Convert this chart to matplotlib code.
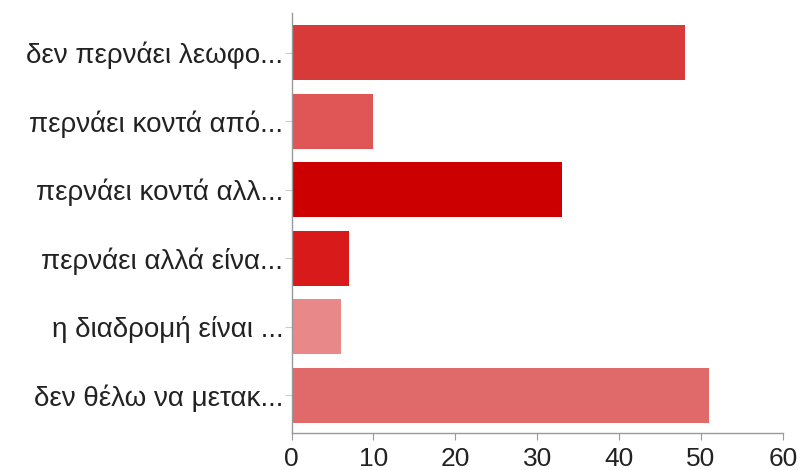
import matplotlib
matplotlib.use("Agg")
import matplotlib.pyplot as plt

categories = [
    "δεν περνάει λεωφο...",
    "περνάει κοντά από...",
    "περνάει κοντά αλλ...",
    "περνάει αλλά είνα...",
    "η διαδρομή είναι ...",
    "δεν θέλω να μετακ...",
]
values = [48, 10, 33, 7, 6, 51]
colors = ["#d83a3a", "#e05656", "#cc0000", "#d81a1a", "#e88888", "#e06a6a"]
xticks = [0, 10, 20, 30, 40, 50, 60]

plt.rcParams['font.family'] = ['Liberation Sans', 'DejaVu Sans']

fig = plt.figure(figsize=(8.01, 4.70), dpi=100)
ax = fig.add_axes([0.364, 0.079, 0.6135, 0.893])

pos = list(range(len(categories)))
ax.barh(pos, values, height=0.8, color=colors)
ax.set_ylim(5.547, -0.576)
ax.set_xlim(0, 60)
ax.set_xticks(xticks)
ax.set_xticklabels([str(t) for t in xticks])
ax.set_yticks(pos)
ax.set_yticklabels(categories)

for s in ["top", "right"]:
    ax.spines[s].set_visible(False)
for s in ["left", "bottom"]:
    ax.spines[s].set_color("#999999")
    ax.spines[s].set_linewidth(1.0)

ax.tick_params(axis="x", direction="out", length=5, color="#999999",
               labelsize=19, labelcolor="#222222", pad=5)
ax.tick_params(axis="y", direction="out", length=5, color="#cccccc",
               labelsize=20, labelcolor="#222222", pad=1)

fig.savefig("out.png", dpi=100)
